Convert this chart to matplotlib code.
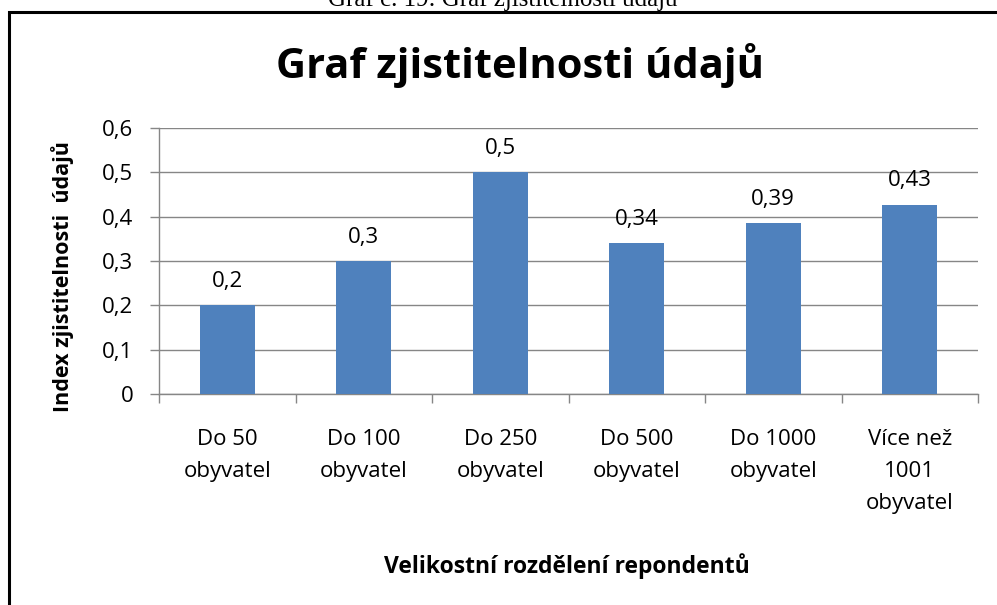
import numpy as np
import matplotlib.pyplot as plt
from matplotlib.patches import Rectangle

# data
categories = ['Do 50\nobyvatel', 'Do 100\nobyvatel', 'Do 250\nobyvatel',
              'Do 500\nobyvatel', 'Do 1000\nobyvatel', 'Více než\n1001\nobyvatel']
values = [0.2, 0.3, 0.5, 0.34, 0.386, 0.427]
yticks = [0, 0.1, 0.2, 0.3, 0.4, 0.5, 0.6]

plt.rcParams['font.family'] = ['Open Sans', 'DejaVu Sans']

def cz(v):
    # czech decimal comma, drop trailing zeros
    s = f'{v:.2f}'.rstrip('0').rstrip('.')
    return s.replace('.', ',')

fig = plt.figure(figsize=(9.97, 6.05), dpi=100)
ax = fig.add_axes([159/997, 1 - 394/605, 819/997, 266/605])

x = np.arange(len(values))
bars = ax.bar(x, values, width=0.4, color='#4F81BD', zorder=3)

for xi, v in zip(x, values):
    ax.text(xi, v + 0.03, cz(v), ha='center', va='bottom', fontsize=16, color='#000000')

ax.set_xlim(-0.5, len(values) - 0.5)
ax.set_ylim(0, 0.6)
ax.set_yticks(yticks)
ax.set_yticklabels([cz(t) for t in yticks], fontsize=16)
ax.yaxis.grid(True, color='#868686', linewidth=1.0, zorder=0)

ax.set_xticks(x)
ax.set_xticklabels(categories, fontsize=16, linespacing=1.7, va='top')
ax.set_xticks(np.arange(len(values) + 1) - 0.5, minor=True)
ax.tick_params(axis='x', which='major', length=0, pad=25)
ax.tick_params(axis='x', which='minor', length=6.5, width=1, color='#868686', direction='out')
ax.tick_params(axis='y', length=6.5, width=1, color='#868686', direction='out', pad=12)

for s in ['top', 'right']:
    ax.spines[s].set_visible(False)
for s in ['left', 'bottom']:
    ax.spines[s].set_color('#868686')
    ax.spines[s].set_linewidth(1.0)

ax.set_xlabel('Velikostní rozdělení repondentů', fontsize=16.5, fontweight='bold')
ax.xaxis.set_label_coords(0.498, -0.648)
ax.xaxis.label.set_va('center')
ax.set_ylabel('Index zjistitelnosti  údajů', fontsize=15.5, fontweight='bold')
ax.yaxis.set_label_coords(-0.118, 0.44)
ax.yaxis.label.set_va('center')

fig.text(520/997, 1 - 78/605, 'Graf zjistitelnosti údajů', ha='center', va='baseline',
         fontsize=30, fontweight='bold')

# caption of the document, cut off at the top
fig.text(503/997, 1 - 6/605, 'Graf č. 19: Graf zjistitelnosti údajů', ha='center', va='baseline',
         fontsize=18, family='Liberation Serif')

# frame around the chart
fig.patches.append(Rectangle((9/997, -0.05), 1.2, 1 - 12/605 + 0.05, transform=fig.transFigure,
                             fill=False, edgecolor='black', linewidth=2.2))

plt.savefig('out.png', dpi=100)
